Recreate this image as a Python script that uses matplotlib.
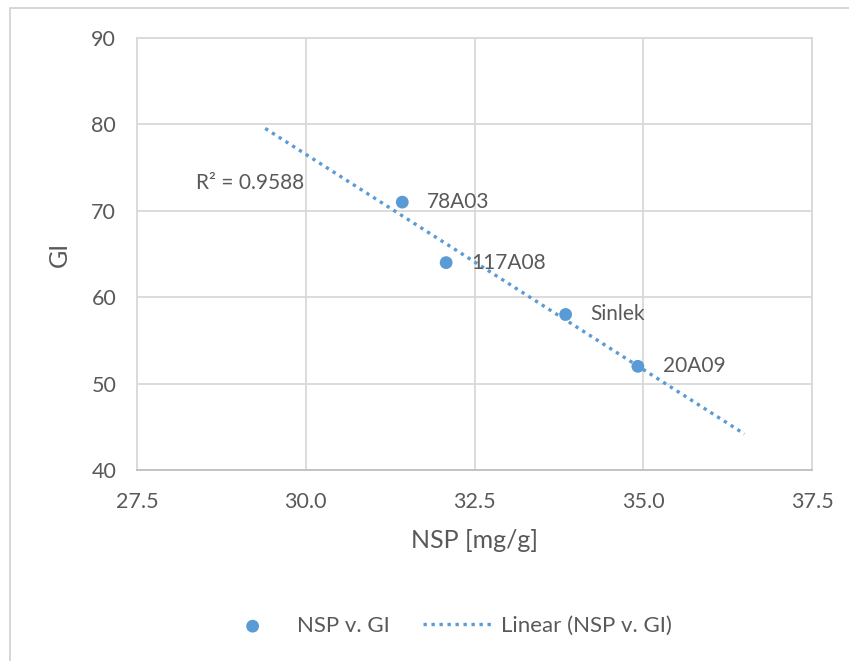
import numpy as np
import matplotlib
matplotlib.use("Agg")
import matplotlib.pyplot as plt
from matplotlib.patches import Rectangle

# Data
labels = ["78A03", "117A08", "Sinlek", "20A09"]
nsp = [31.43, 32.08, 33.85, 34.92]
gi = [71.0, 64.0, 58.0, 52.0]
trend_x_range = [29.4, 36.5]
r2_text = "R² = 0.9588"
x_ticks = [27.5, 30.0, 32.5, 35.0, 37.5]
y_ticks = [40, 50, 60, 70, 80, 90]

blue = "#5B9BD5"
txt = "#595959"
grid = "#D9D9D9"
plt.rcParams['font.family'] = ['Lato', 'DejaVu Sans']

W, H = 849, 661
fig = plt.figure(figsize=(W / 100, H / 100), dpi=100)
fig.patches.append(Rectangle((10 / W, -0.01), 1.2, 1 - 8 / H + 0.01, transform=fig.transFigure,
                             fill=False, edgecolor="#D0D0D0", linewidth=1.2))

ax = fig.add_axes([137 / W, 1 - 470 / H, (812 - 137) / W, (470 - 38) / H])
ax.set_xlim(27.5, 37.5)
ax.set_ylim(40, 90)
ax.set_xticks(x_ticks)
ax.set_xticklabels([f"{v:.1f}" for v in x_ticks])
ax.set_yticks(y_ticks)
ax.grid(True, color=grid, linewidth=1.3)
ax.set_axisbelow(True)
for s in ax.spines.values():
    s.set_color(grid)
    s.set_linewidth(1.3)
ax.spines['bottom'].set_color("#BFBFBF")
ax.tick_params(length=0, labelsize=15.5, colors=txt)
ax.tick_params(axis='x', pad=16)
ax.tick_params(axis='y', pad=15)

# Trend line
coef = np.polyfit(nsp, gi, 1)
tx = np.array(trend_x_range)
ax.plot(tx, np.polyval(coef, tx), linestyle=(0, (1, 1.4)), color=blue, linewidth=2.4,
        label="Linear (NSP v. GI)", zorder=2)

ax.scatter(nsp, gi, s=85, color=blue, zorder=3, label="NSP v. GI", edgecolors='none')
for x, y, l in zip(nsp, gi, labels):
    ax.annotate(l, (x, y), xytext=(18, 0), textcoords="offset points", va="center",
                ha="left", fontsize=15, color=txt)

ax.text(28.37, 73.2, r2_text, fontsize=15, color=txt, va="center", ha="left")

ax.set_xlabel("NSP [mg/g]", fontsize=18, color=txt, labelpad=12)
ax.set_ylabel("GI", fontsize=18, color=txt, labelpad=15)

h, lbl = ax.get_legend_handles_labels()
leg = fig.legend([h[1], h[0]], [lbl[1], lbl[0]], loc="center", bbox_to_anchor=(445 / W, 1 - 626 / H),
                 ncol=2, frameon=False, fontsize=16, labelcolor=txt, handlelength=3.15,
                 columnspacing=1.5, handletextpad=0.4)

fig.savefig("out.png", dpi=100)
